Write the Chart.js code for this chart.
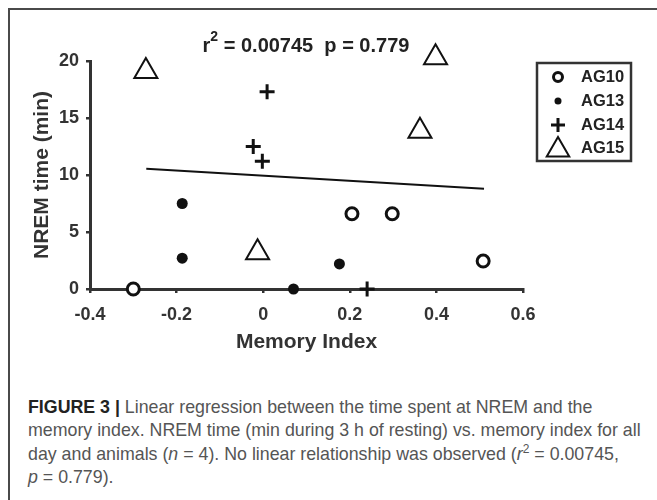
<!DOCTYPE html>
<html>
<head>
<meta charset="utf-8">
<script src="https://cdn.jsdelivr.net/npm/chart.js@4.4.1/dist/chart.umd.min.js"></script>
<style>
  body { margin: 0; width: 657px; height: 500px; background: #fff; overflow: hidden; font-family: "Liberation Sans", Arial, sans-serif; }
  #frame { position: absolute; left: 8px; top: 8px; width: 649px; height: 492px; border-top: 2px solid #4a4a4a; border-left: 2px solid #4a4a4a; }
  #wrap { position: absolute; left: 0; top: 0; width: 657px; height: 370px; }
  #caption { position: absolute; left: 28px; top: 396px; font-size: 17.8px; line-height: 23.3px; color: #555; white-space: nowrap; }
  #caption b { color: #222; }
</style>
</head>
<body>
<div id="frame"></div>
<div id="wrap"><canvas id="nremChart"></canvas></div>
<div id="caption">
  <div><b>FIGURE 3 |</b> Linear regression between the time spent at NREM and the</div>
  <div>memory index. NREM time (min during 3 h of resting) vs. memory index for all</div>
  <div>day and animals (<i>n</i> = 4). No linear relationship was observed (<i>r</i><sup style="font-size:12px;line-height:0">2</sup> = 0.00745,</div>
  <div><i>p</i> = 0.779).</div>
</div>
<script>
// memory index (x) vs NREM minutes (y), one pair of arrays per animal
const ag10X = [-0.30, 0.205, 0.298, 0.508];
const ag10Y = [0, 6.6, 6.6, 2.45];
const ag13X = [-0.187, -0.187, 0.07, 0.176];
const ag13Y = [7.5, 2.7, 0, 2.2];
const ag14X = [0.009, -0.023, -0.002, 0.24];
const ag14Y = [17.3, 12.5, 11.2, 0];
const ag15X = [-0.271, 0.398, 0.362, -0.013];
const ag15Y = [19.1, 20.3, 13.85, 3.2];
// regression line end points
const fitX = [-0.27, 0.51];
const fitY = [10.55, 8.8];

const xTicks = [-0.4, -0.2, 0, 0.2, 0.4, 0.6];
const yTicks = [0, 5, 10, 15, 20];
const animals = ['AG10', 'AG13', 'AG14', 'AG15'];

const pts = (xs, ys) => xs.map((x, i) => ({ x, y: ys[i] }));
const INK = '#111';
const AXIS = '#333';
const FAMILY = '"Liberation Sans", Arial, sans-serif';

const datasets = [
  { label: animals[0], data: pts(ag10X, ag10Y), pointStyle: 'circle', pointRadius: 6, borderWidth: 3,
    borderColor: INK, backgroundColor: '#fff', clip: false },
  { label: animals[1], data: pts(ag13X, ag13Y), pointStyle: 'circle', pointRadius: 5.5, borderWidth: 0,
    borderColor: INK, backgroundColor: INK, clip: false },
  { label: animals[2], data: pts(ag14X, ag14Y), pointStyle: 'cross', pointRadius: 7.5, borderWidth: 3,
    borderColor: INK, backgroundColor: INK, clip: false },
  { label: animals[3], data: pts(ag15X, ag15Y), pointStyle: 'triangle', pointRadius: 13.3, borderWidth: 2,
    borderColor: INK, backgroundColor: '#fff', clip: false },
  { label: 'fit', data: pts(fitX, fitY), showLine: true, pointRadius: 0, borderWidth: 2,
    borderColor: INK, clip: false }
];

// r² / p heading with a real superscript
const statsTitle = {
  id: 'statsTitle',
  afterDraw(chart) {
    const ctx = chart.ctx;
    const big = 'bold 20px ' + FAMILY;
    const small = 'bold 14px ' + FAMILY;
    const rest = ' = 0.00745  p = 0.779';
    ctx.save();
    ctx.fillStyle = '#222';
    ctx.textBaseline = 'alphabetic';
    ctx.font = big;
    const wr = ctx.measureText('r').width;
    const wrest = ctx.measureText(rest).width;
    ctx.font = small;
    const w2 = ctx.measureText('2').width;
    let x = 306 - (wr + w2 + wrest) / 2;
    const base = 52;
    ctx.font = big;
    ctx.fillText('r', x, base);
    x += wr;
    ctx.font = small;
    ctx.fillText('2', x, base - 11);
    x += w2;
    ctx.font = big;
    ctx.fillText(rest, x, base);
    ctx.restore();
  }
};

// boxed legend at the right of the plot
const boxLegend = {
  id: 'boxLegend',
  afterDraw(chart) {
    const ctx = chart.ctx;
    ctx.save();
    ctx.lineWidth = 2.5;
    ctx.strokeStyle = AXIS;
    ctx.strokeRect(537, 63, 94, 98);
    const rows = [77, 101, 125, 148];
    const sizes = [4.5, 3.5, 7, 13];
    ctx.font = 'bold 16.5px ' + FAMILY;
    ctx.textBaseline = 'middle';
    animals.forEach((name, i) => {
      const ds = chart.data.datasets[i];
      ctx.strokeStyle = ds.borderColor;
      ctx.fillStyle = ds.backgroundColor;
      ctx.lineWidth = ds.borderWidth;
      Chart.helpers.drawPoint(ctx, { pointStyle: ds.pointStyle, radius: sizes[i], borderWidth: ds.borderWidth, rotation: 0 }, 558, i === 3 ? rows[i] + 2 : rows[i]);
      ctx.fillStyle = '#222';
      ctx.fillText(name, 581, rows[i]);
    });
    ctx.restore();
  }
};

new Chart(document.getElementById('nremChart'), {
  type: 'scatter',
  data: { datasets },
  options: {
    responsive: true,
    maintainAspectRatio: false,
    animation: false,
    events: [],
    layout: { padding: { left: 0, top: 61, right: 134, bottom: 0 } },
    plugins: { legend: { display: false }, tooltip: { enabled: false }, title: { display: false } },
    scales: {
      x: {
        type: 'linear', min: -0.4, max: 0.6,
        afterBuildTicks: s => { s.ticks = xTicks.map(v => ({ value: v })); },
        afterFit: s => { s.height = 81; },
        ticks: { color: AXIS, padding: 11, font: { size: 18, weight: 'bold', family: FAMILY },
          callback: v => String(Math.round(v * 10) / 10) },
        grid: { drawOnChartArea: false, drawTicks: true, tickLength: 4, color: AXIS, lineWidth: 2.5 },
        border: { color: AXIS, width: 3 },
        title: { display: true, text: 'Memory Index', color: AXIS, padding: { top: 0, bottom: 15 },
          font: { size: 21, weight: 'bold', family: FAMILY } }
      },
      y: {
        type: 'linear', min: 0, max: 20,
        afterBuildTicks: s => { s.ticks = yTicks.map(v => ({ value: v })); },
        afterFit: s => { s.width = 90; },
        ticks: { color: AXIS, padding: 7, font: { size: 18, weight: 'bold', family: FAMILY } },
        grid: { drawOnChartArea: false, drawTicks: true, tickLength: 4, color: AXIS, lineWidth: 2.5 },
        border: { color: AXIS, width: 3 },
        title: { display: true, text: 'NREM time (min)', color: AXIS, padding: { top: 30, bottom: 0 },
          font: { size: 21, weight: 'bold', family: FAMILY } }
      }
    }
  },
  plugins: [statsTitle, boxLegend]
});
</script>
</body>
</html>
